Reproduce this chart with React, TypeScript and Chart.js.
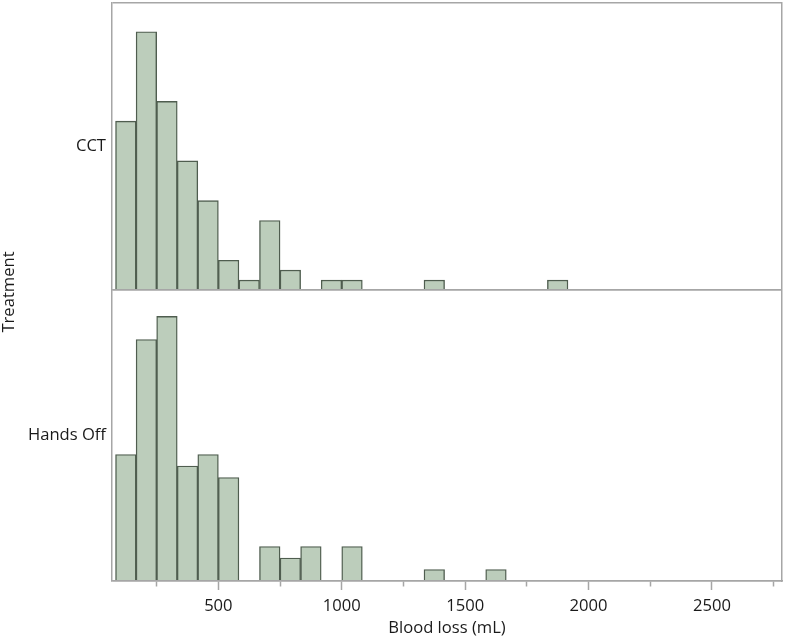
import React, { useEffect, useRef } from "react";
import { Chart, registerables } from "chart.js";

Chart.register(...registerables);

// Histogram bin edges (mL) — 22 bins of width 250/3
const BIN_EDGES = [
  83.33, 166.67, 250, 333.33, 416.67, 500, 583.33, 666.67, 750, 833.33, 916.67,
  1000, 1083.33, 1166.67, 1250, 1333.33, 1416.67, 1500, 1583.33, 1666.67, 1750,
  1833.33, 1916.67,
];

// Counts per bin
const CCT_COUNTS = [17, 26, 19, 13, 9, 3, 1, 7, 2, 0, 1, 1, 0, 0, 0, 1, 0, 0, 0, 0, 0, 1];
const HANDS_OFF_COUNTS = [11, 21, 23, 10, 11, 9, 0, 3, 2, 3, 0, 3, 0, 0, 0, 1, 0, 0, 1, 0, 0, 0];

const PANEL_LABELS = ["CCT", "Hands Off"];
const X_TICKS = [250, 500, 750, 1000, 1250, 1500, 1750, 2000, 2250, 2500, 2750];
const X_LABELED = [500, 1000, 1500, 2000, 2500];
const X_MIN = 69;
const X_MAX = 2784;
const CCT_Y_MAX = 28.9;
const HANDS_Y_MAX = 25.3;

const FONT_FAMILY = "'Open Sans', 'Noto Sans', sans-serif";
const FONT_SIZE = 16.6;
const TEXT = "#1a1a1a";
const FRAME = "#a6a6a6";
const BAR_FILL = "#bccdbb";
const BAR_EDGE = "#4f5d4f";

const toPoints = (counts: number[]) =>
  counts.map((c, i) => ({
    x: (BIN_EDGES[i] + BIN_EDGES[i + 1]) / 2,
    y: c === 0 ? null : c,
  }));

const panelAxis = (label: string, max: number, weight: number, stackWeight: number) => ({
  type: "linear",
  position: "left",
  stack: "panels",
  stackWeight,
  weight,
  min: 0,
  max,
  afterBuildTicks: (s: any) => {
    s.ticks = [{ value: 0 }, { value: max / 2 }, { value: max }];
  },
  afterFit: (s: any) => {
    s.width = 92;
    s.paddingTop = 0;
    s.paddingBottom = 0;
  },
  ticks: {
    autoSkip: false,
    padding: 6,
    color: TEXT,
    font: { family: FONT_FAMILY, size: FONT_SIZE },
    callback: (v: number) => (v === max / 2 ? label : ""),
  },
  grid: {
    display: true,
    drawOnChartArea: true,
    drawTicks: false,
    lineWidth: 1.5,
    z: 1,
    color: (ctx: any) =>
      ctx.tick && ctx.tick.value === max / 2 ? "rgba(0,0,0,0)" : FRAME,
  },
  border: { display: true, color: FRAME, width: 1.5, z: 1 },
});

export default function App() {
  const canvasRef = useRef<HTMLCanvasElement | null>(null);

  useEffect(() => {
    if (!canvasRef.current) return;
    const chart = new Chart(canvasRef.current, {
      type: "bar",
      data: {
        datasets: [
          {
            label: PANEL_LABELS[0],
            data: toPoints(CCT_COUNTS),
            xAxisID: "x",
            yAxisID: "yCCT",
            backgroundColor: BAR_FILL,
            borderColor: BAR_EDGE,
            borderWidth: 1.4,
            barPercentage: 1,
            categoryPercentage: 1,
            grouped: false,
          },
          {
            label: PANEL_LABELS[1],
            data: toPoints(HANDS_OFF_COUNTS),
            xAxisID: "x",
            yAxisID: "yHands",
            backgroundColor: BAR_FILL,
            borderColor: BAR_EDGE,
            borderWidth: 1.4,
            barPercentage: 1,
            categoryPercentage: 1,
            grouped: false,
          },
        ] as any,
      },
      options: {
        responsive: false,
        animation: false,
        layout: { padding: { top: 3, right: 5, bottom: 0, left: 0 } },
        plugins: { legend: { display: false }, tooltip: { enabled: false } },
        scales: {
          x: {
            type: "linear",
            position: "bottom",
            offset: false,
            min: X_MIN,
            max: X_MAX,
            afterBuildTicks: (s: any) => {
              s.ticks = X_TICKS.map((v) => ({ value: v }));
            },
            afterFit: (s: any) => {
              s.height = 58;
              s.paddingLeft = 0;
              s.paddingRight = 0;
            },
            ticks: {
              autoSkip: false,
              maxRotation: 0,
              padding: 6,
              color: TEXT,
              font: { family: FONT_FAMILY, size: FONT_SIZE },
              callback: (v: any) => (X_LABELED.includes(v) ? String(v) : ""),
            },
            grid: {
              display: true,
              offset: false,
              drawOnChartArea: false,
              drawTicks: true,
              tickLength: 9,
              tickWidth: 1.5,
              tickColor: FRAME,
              tickBorderDash: (ctx: any) =>
                ctx.tick && X_LABELED.includes(ctx.tick.value) ? [] : [5, 30],
            },
            border: { display: true, color: FRAME, width: 1.5, z: 1 },
            title: {
              display: true,
              text: "Blood loss (mL)",
              color: TEXT,
              font: { family: FONT_FAMILY, size: FONT_SIZE },
              padding: { top: 0, bottom: 1 },
            },
          },
          yHands: panelAxis(PANEL_LABELS[1], HANDS_Y_MAX, 0, 291),
          yCCT: panelAxis(PANEL_LABELS[0], CCT_Y_MAX, 1, 287),
          yT: {
            type: "linear",
            position: "left",
            weight: 2,
            display: true,
            afterFit: (s: any) => {
              s.width = 20;
              s.paddingTop = 0;
              s.paddingBottom = 0;
            },
            ticks: { display: false },
            grid: { display: false },
            border: { display: false },
            title: {
              display: true,
              text: "Treatment",
              color: TEXT,
              font: { family: FONT_FAMILY, size: FONT_SIZE },
              padding: { top: -1, bottom: 0 },
            },
          },
          yR: {
            type: "linear",
            position: "right",
            display: true,
            afterFit: (s: any) => {
              s.width = 0;
              s.paddingTop = 0;
              s.paddingBottom = 0;
            },
            ticks: { display: false },
            grid: { display: false },
            border: { display: true, color: FRAME, width: 1.5, z: 1 },
          },
        } as any,
      },
    });
    return () => chart.destroy();
  }, []);

  return (
    <div style={{ position: "fixed", left: 0, top: 0, width: 787, height: 639, background: "#fff" }}>
      <canvas ref={canvasRef} width={787} height={639} style={{ display: "block" }} />
    </div>
  );
}
